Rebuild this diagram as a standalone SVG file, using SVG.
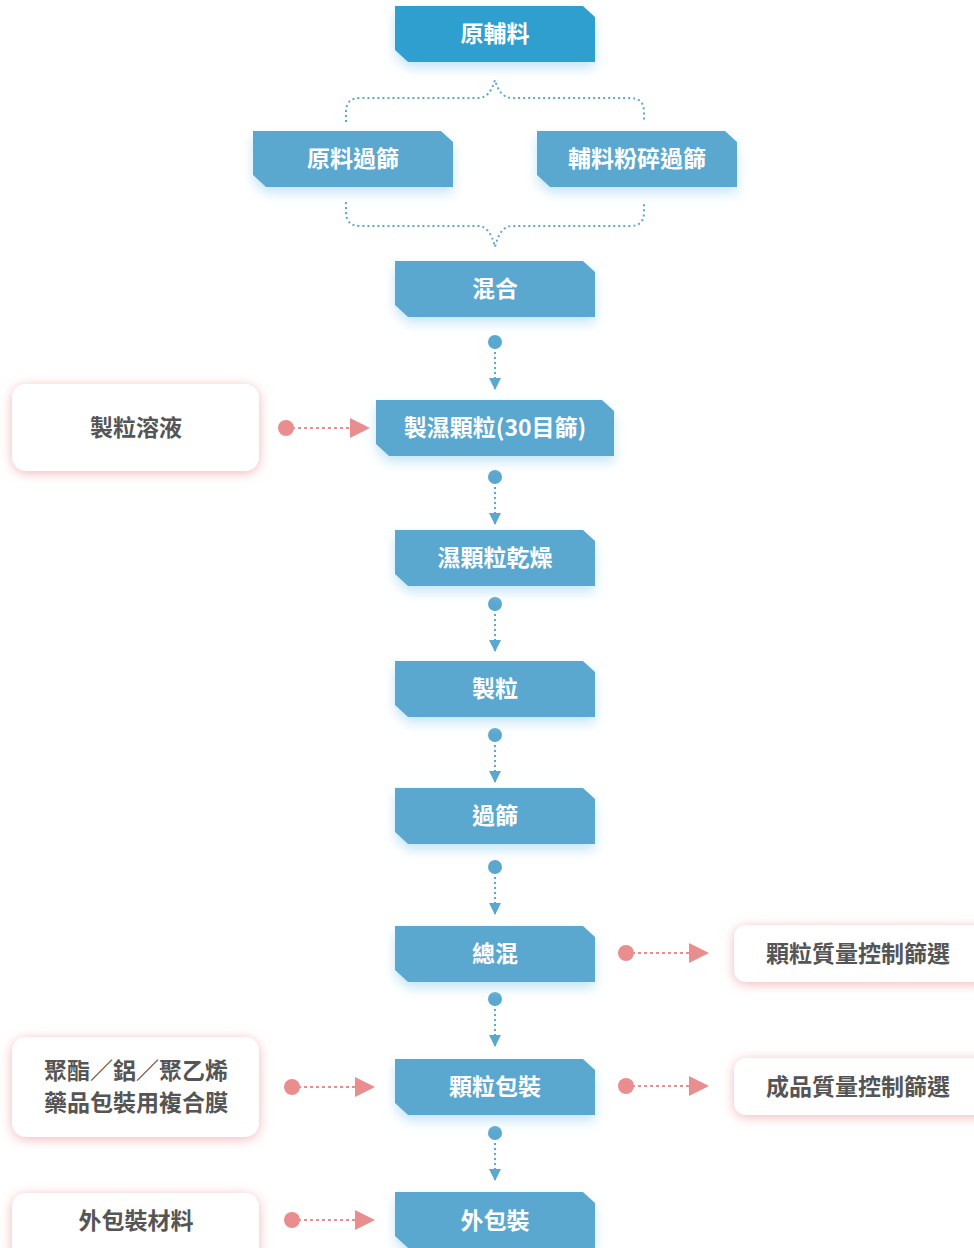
<svg xmlns="http://www.w3.org/2000/svg" width="974" height="1248" viewBox="0 0 974 1248">
<defs>
<filter id="bglow" x="-20%" y="-30%" width="140%" height="180%">
<feDropShadow dx="0" dy="6" stdDeviation="6" flood-color="#bfe3f5" flood-opacity="0.9"/>
</filter>
<filter id="pglow" x="-20%" y="-30%" width="140%" height="170%">
<feDropShadow dx="0" dy="2" stdDeviation="6" flood-color="#f0aab0" flood-opacity="0.85"/>
</filter>
<marker id="barr" viewBox="0 0 12 12" refX="12" refY="6" markerWidth="12" markerHeight="12" markerUnits="userSpaceOnUse" orient="auto">
<path d="M0,0 L12,6 L0,12 Z" fill="#5aa7cf"/>
</marker>
<marker id="parr" viewBox="0 0 20 20" refX="20" refY="10" markerWidth="20" markerHeight="20" markerUnits="userSpaceOnUse" orient="auto">
<path d="M0,0 L20,10 L0,20 Z" fill="#ea8d8f"/>
</marker>
</defs>
<style>
.bn{fill:#5aa7cf;filter:url(#bglow)}
.bn0{fill:#2e9fce;filter:url(#bglow)}
.bt{font-family:"Noto Sans CJK TC","Noto Sans CJK SC",sans-serif;font-weight:700;font-size:23px;fill:#fff;text-anchor:middle}
.pn{fill:#fff;filter:url(#pglow)}
.pt{font-family:"Noto Sans CJK TC","Noto Sans CJK SC",sans-serif;font-weight:700;font-size:23px;fill:#555;text-anchor:middle}
.bl{stroke:#5aa7cf;stroke-width:2;stroke-dasharray:2 3;fill:none}
.pl{stroke:#ea8d8f;stroke-width:2;stroke-dasharray:3 3;fill:none}
.bd{fill:#5aa7cf}
.pd{fill:#ea8d8f}
</style>

<g id="connectors">
<path class="bl" d="M346,122 V112 Q346,98 360,98 H478 Q490,98 495,80 Q500,98 512,98 H630 Q644,98 644,112 V122"/>
<path class="bl" d="M346,202 V212 Q346,226 360,226 H478 Q490,226 495,247 Q500,226 512,226 H630 Q644,226 644,212 V202"/>
<circle class="bd" cx="495" cy="342" r="7"/><path class="bl" d="M495,342 V390" marker-end="url(#barr)"/>
<circle class="bd" cx="495" cy="477" r="7"/><path class="bl" d="M495,477 V525" marker-end="url(#barr)"/>
<circle class="bd" cx="495" cy="604" r="7"/><path class="bl" d="M495,604 V652" marker-end="url(#barr)"/>
<circle class="bd" cx="495" cy="735" r="7"/><path class="bl" d="M495,735 V783" marker-end="url(#barr)"/>
<circle class="bd" cx="495" cy="867" r="7"/><path class="bl" d="M495,867 V915" marker-end="url(#barr)"/>
<circle class="bd" cx="495" cy="999" r="7"/><path class="bl" d="M495,999 V1047" marker-end="url(#barr)"/>
<circle class="bd" cx="495" cy="1133" r="7"/><path class="bl" d="M495,1133 V1181" marker-end="url(#barr)"/>
<circle class="pd" cx="286" cy="428" r="8"/><path class="pl" d="M286,428 H370" marker-end="url(#parr)"/>
<circle class="pd" cx="626" cy="953" r="8"/><path class="pl" d="M626,953 H709" marker-end="url(#parr)"/>
<circle class="pd" cx="292" cy="1087" r="8"/><path class="pl" d="M292,1087 H375" marker-end="url(#parr)"/>
<circle class="pd" cx="626" cy="1086" r="8"/><path class="pl" d="M626,1086 H709" marker-end="url(#parr)"/>
<circle class="pd" cx="292" cy="1220" r="8"/><path class="pl" d="M292,1220 H375" marker-end="url(#parr)"/>
</g>

<g id="n1"><path class="bn0" d="M395,6 H583 L595,17 V62 H408 L395,50 Z"/><text class="bt" x="495" y="42">原輔料</text></g>
<g id="n2"><path class="bn" d="M253,131 H441 L453,142 V187 H266 L253,175 Z"/><text class="bt" x="353" y="167">原料過篩</text></g>
<g id="n3"><path class="bn" d="M537,131 H725 L737,142 V187 H550 L537,175 Z"/><text class="bt" x="637" y="167">輔料粉碎過篩</text></g>
<g id="n4"><path class="bn" d="M395,261 H583 L595,272 V317 H408 L395,305 Z"/><text class="bt" x="495" y="297">混合</text></g>
<g id="n5"><path class="bn" d="M376,400 H602 L614,411 V456 H389 L376,444 Z"/><text class="bt" x="495" y="436">製濕顆粒(30目篩)</text></g>
<g id="n6"><path class="bn" d="M395,530 H583 L595,541 V586 H408 L395,574 Z"/><text class="bt" x="495" y="566">濕顆粒乾燥</text></g>
<g id="n7"><path class="bn" d="M395,661 H583 L595,672 V717 H408 L395,705 Z"/><text class="bt" x="495" y="697">製粒</text></g>
<g id="n8"><path class="bn" d="M395,788 H583 L595,799 V844 H408 L395,832 Z"/><text class="bt" x="495" y="824">過篩</text></g>
<g id="n9"><path class="bn" d="M395,926 H583 L595,937 V982 H408 L395,970 Z"/><text class="bt" x="495" y="962">總混</text></g>
<g id="n10"><path class="bn" d="M395,1059 H583 L595,1070 V1115 H408 L395,1103 Z"/><text class="bt" x="495" y="1095">顆粒包裝</text></g>
<g id="n11"><path class="bn" d="M395,1192 H583 L595,1203 V1248 H408 L395,1236 Z"/><text class="bt" x="495" y="1229">外包裝</text></g>

<g id="s1"><rect class="pn" x="12" y="384" width="247" height="87" rx="14"/><text class="pt" x="136" y="436">製粒溶液</text></g>
<g id="s2"><rect class="pn" x="734" y="925" width="260" height="57" rx="12"/><text class="pt" x="858" y="962">顆粒質量控制篩選</text></g>
<g id="s3"><rect class="pn" x="12" y="1037" width="247" height="100" rx="14"/><text class="pt" x="136" y="1079">聚酯／鋁／聚乙烯</text><text class="pt" x="136" y="1111">藥品包裝用複合膜</text></g>
<g id="s4"><rect class="pn" x="734" y="1058" width="260" height="57" rx="12"/><text class="pt" x="858" y="1095">成品質量控制篩選</text></g>
<g id="s5"><rect class="pn" x="12" y="1193" width="247" height="70" rx="14"/><text class="pt" x="136" y="1229">外包裝材料</text></g>
</svg>
